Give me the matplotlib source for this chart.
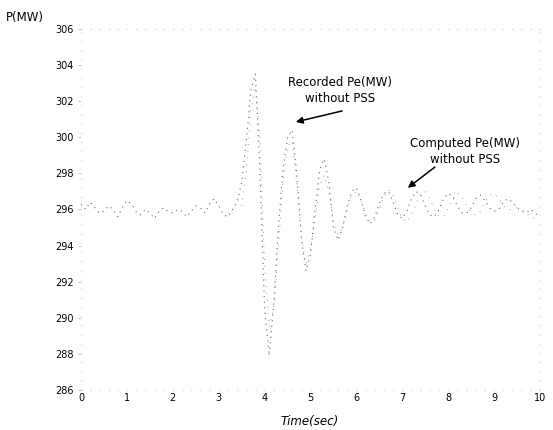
import numpy as np
import matplotlib
matplotlib.use("Agg")
import matplotlib.pyplot as plt

# Recorded Pe (MW), sampled every 0.1 s from 0 to 10 s
rec_time = [round(0.1 * i, 1) for i in range(101)]
rec_pe = [296.3, 296.0, 296.4, 296.1, 295.8, 295.9, 296.2, 296.0, 295.6, 296.1,
          296.5, 296.3, 295.9, 295.7, 296.0, 295.8, 295.5, 295.9, 296.1, 295.9,
          295.8, 296.0, 295.9, 295.6, 295.9, 296.2, 296.1, 295.8, 296.3, 296.6,
          296.2, 295.7, 295.6, 296.0, 296.4, 297.5, 299.8, 302.6, 303.5, 298.0,
          290.5, 287.9, 290.8, 295.0, 298.2, 300.0, 300.4, 298.0, 294.5, 292.6,
          293.5, 296.0, 298.2, 298.8, 297.5, 295.0, 294.3, 295.0, 296.2, 297.0,
          297.2, 296.5, 295.6, 295.2, 295.6, 296.3, 296.9, 297.0, 296.4, 295.7,
          295.5, 295.9, 296.6, 297.0, 296.8, 296.2, 295.7, 295.6, 296.0, 296.6,
          296.9, 296.7, 296.2, 295.8, 295.8, 296.1, 296.6, 296.8, 296.5, 296.1,
          295.9, 296.0, 296.4, 296.6, 296.4, 296.1, 295.9, 295.8, 296.0, 295.8,
          295.6]

# Computed Pe (MW), from 3.5 s to 10 s
comp_time = [round(3.5 + 0.1 * i, 1) for i in range(66)]
comp_pe = [296.2, 298.0, 301.5, 302.8, 300.0, 293.0, 289.5, 290.5, 294.0, 297.5,
           299.5, 299.8, 297.5, 294.5, 293.0, 293.8, 295.5, 297.3, 297.9, 297.0,
           295.4, 294.6, 295.0, 296.0, 296.8, 297.0, 296.5, 295.8, 295.3, 295.4,
           296.0, 296.7, 297.1, 296.8, 296.1, 295.5, 295.3, 295.7, 296.3, 296.9,
           297.0, 296.6, 296.0, 295.6, 295.6, 296.1, 296.6, 296.9, 296.7, 296.2,
           295.8, 295.7, 295.9, 296.4, 296.8, 296.9, 296.6, 296.2, 296.0, 296.0,
           296.1, 296.0, 295.8, 295.6, 295.5, 295.5]

x_ticks = list(range(0, 11))
y_ticks = list(range(286, 307, 2))

fig = plt.figure(figsize=(5.53, 4.30), dpi=100)
ax = fig.add_axes([0.1465, 0.093, 0.83, 0.8396])

# faded, dotted traces like the scanned original
ax.plot(rec_time, rec_pe, color="#666666", lw=0.8, ls=(0, (1, 4)))
ax.plot(comp_time, comp_pe, color="#999999", lw=0.7, ls=(0, (1, 6)))

ax.set_xlim(0, 10)
ax.set_ylim(286, 306)
ax.set_xticks(x_ticks)
ax.set_yticks(y_ticks)
ax.tick_params(axis="x", length=0, pad=2, labelsize=7)
ax.tick_params(axis="y", length=2, width=0.5, color="#aaaaaa", pad=3, labelsize=7)

for side in ["top", "right", "left", "bottom"]:
    ax.spines[side].set_linestyle((0, (1, 10)))
    ax.spines[side].set_color("#cccccc")
    ax.spines[side].set_linewidth(0.6)

fig.text(0.01, 0.95, "P(MW)", fontsize=8.5)
fig.text(0.56, 0.012, "Time(sec)", fontsize=8.5, style="italic", ha="center")

arrow = dict(arrowstyle="-|>", color="black", lw=1.1, mutation_scale=10,
             shrinkA=0, shrinkB=0)

ax.text(5.64, 302.6, "Recorded Pe(MW)\nwithout PSS", ha="center", va="center",
        fontsize=8.5, linespacing=1.25)
ax.annotate("", xy=(4.68, 300.85), xytext=(5.69, 301.46), arrowprops=arrow)

ax.text(8.37, 299.2, "Computed Pe(MW)\nwithout PSS", ha="center", va="center",
        fontsize=8.5, linespacing=1.25)
ax.annotate("", xy=(7.12, 297.2), xytext=(7.71, 298.35), arrowprops=arrow)

fig.savefig("out.png", dpi=100)
